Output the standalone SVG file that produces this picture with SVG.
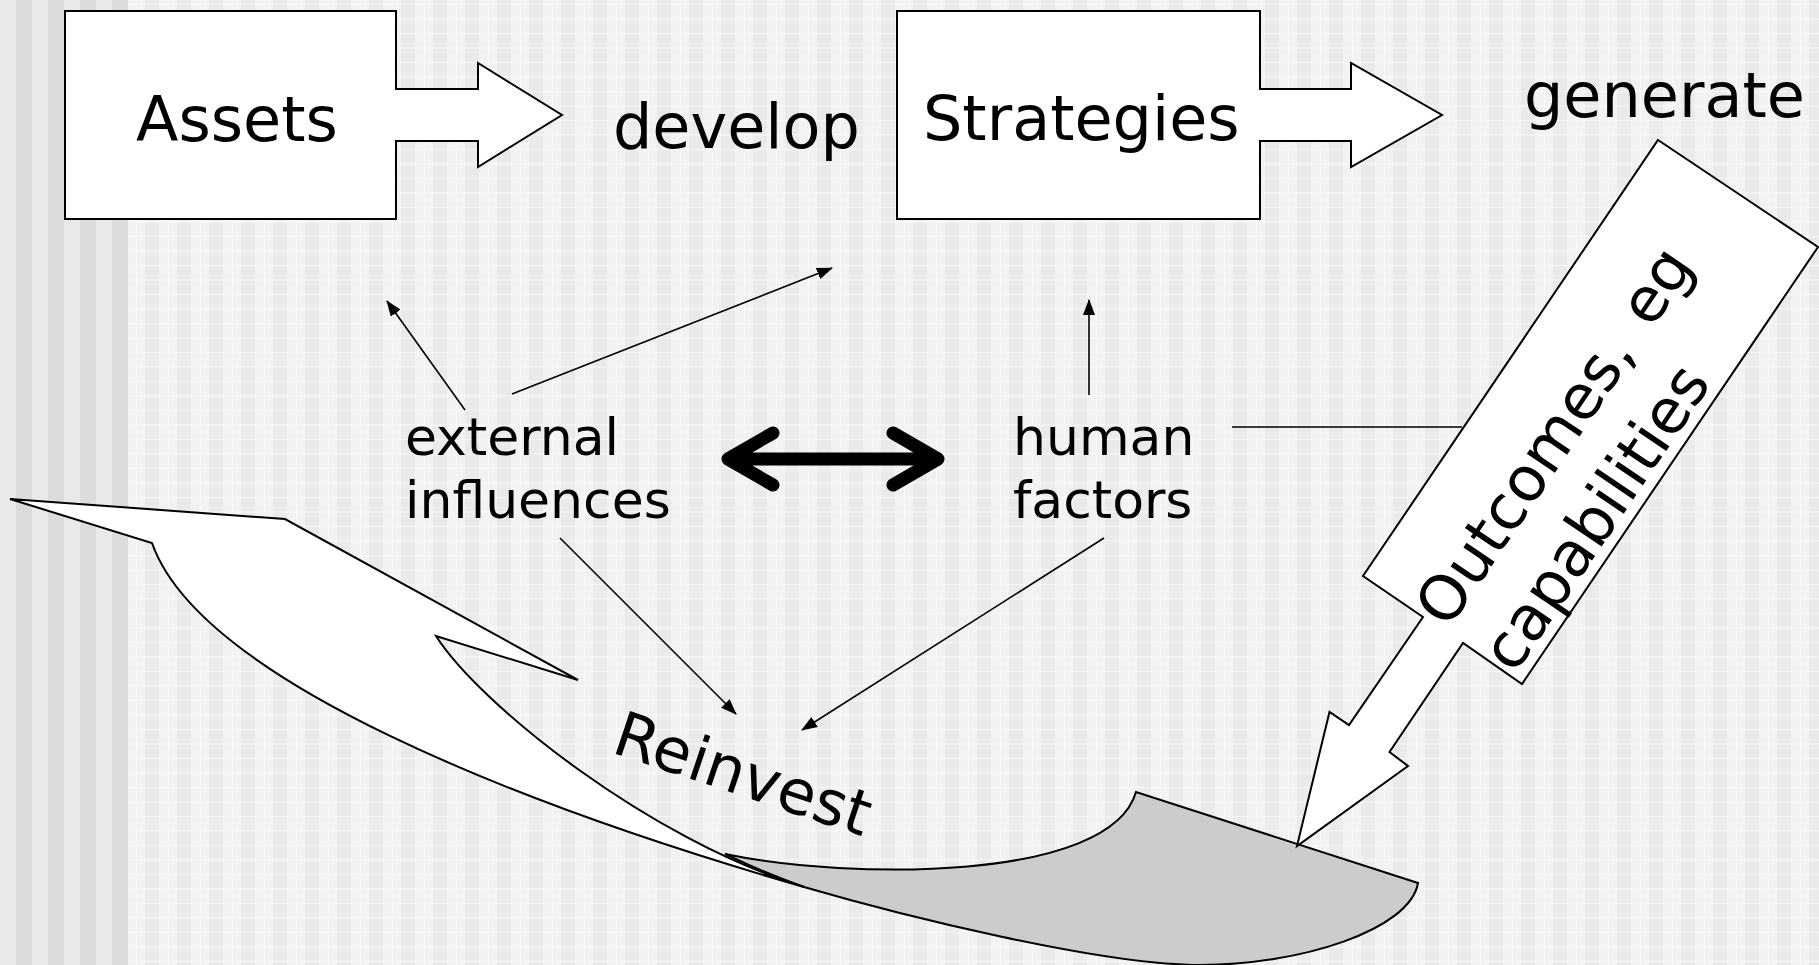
<svg xmlns="http://www.w3.org/2000/svg" width="1819" height="965" viewBox="0 0 1819 965">
<defs>
<style>
.box{fill:#fff;stroke:#000;stroke-width:2;stroke-linejoin:miter}
.shape{stroke:#000;stroke-width:2;stroke-linejoin:miter}
.big{font-family:"DejaVu Sans","Liberation Sans",sans-serif;font-size:62px;fill:#000}
.mid{font-family:"DejaVu Sans","Liberation Sans",sans-serif;font-size:52px;fill:#000}
.thin{stroke:#000;stroke-width:1.6;fill:none}
.thick{stroke:#000;stroke-width:13;fill:none;stroke-linecap:round;stroke-linejoin:round}
</style>
<pattern id="plaid" x="0" y="0" width="32" height="14.5" patternUnits="userSpaceOnUse">
<rect width="32" height="14.5" fill="#f2f2f2"/>
<rect x="17" width="14" height="14.5" fill="#eaeaea"/>
<rect x="8" width="1" height="14.5" fill="#f8f8f8"/>
<rect x="0" y="4" width="32" height="1" fill="#fafafa"/>
</pattern>
<pattern id="strip" x="0" y="0" width="32" height="10" patternUnits="userSpaceOnUse">
<rect width="16" height="10" fill="#e9e9e9"/>
<rect x="16" width="16" height="10" fill="#dcdcdc"/>
</pattern>
<marker id="ah" markerUnits="userSpaceOnUse" markerWidth="16" markerHeight="12" refX="15" refY="6" orient="auto">
<path d="M0,0 L16,6 L0,12 Z" fill="#000"/>
</marker>
</defs>

<g id="background">
<rect x="0" y="0" width="1819" height="965" fill="url(#plaid)"/>
<rect x="0" y="0" width="128" height="965" fill="url(#strip)"/>
</g>

<g id="reinvest-arrow">
<path class="shape" fill="#cccccc" d="M725,854 C850,880 1110,882 1136,792 L1418,883 C1410,930 1300,965 1200,965 C1100,965 900,915 804,887 C770,875 750,866 725,854 Z"/>
<path class="shape" fill="#ffffff" d="M10,499 L285,519 L578,680 L436,636 C480,705 650,840 804,887 C520,805 200,680 152,543 Z"/>
</g>

<g id="node-assets">
<path class="box" d="M65,11 H396 V89 H478 V63 L562,115 L478,167 V141 H396 V219 H65 Z"/>
<text class="big" x="136" y="141">Assets</text>
</g>

<g id="label-develop">
<text class="big" x="613" y="148">develop</text>
</g>

<g id="node-strategies">
<path class="box" d="M897,11 H1260 V89 H1351 V63 L1442,115 L1351,167 V141 H1260 V219 H897 Z"/>
<text class="big" x="923" y="140">Strategies</text>
</g>

<g id="label-generate">
<text class="big" x="1524" y="117">generate</text>
</g>

<g id="node-outcomes">
<path class="shape" fill="#ffffff" d="M1658,140 L1818,247 L1522,684 L1463,643 L1389.5,752 L1408,766 L1297,846 L1329.5,712 L1349,725 L1423,617 L1363,576 Z"/>
<g transform="translate(1590,412) rotate(-55.9)">
<text class="big" x="-260" y="5" word-spacing="8">Outcomes, eg</text>
<text class="big" x="-260" y="85">capabilities</text>
</g>
</g>

<g id="node-external">
<text class="mid" x="405" y="455">external</text>
<text class="mid" x="405" y="518">influences</text>
</g>

<g id="node-human">
<text class="mid" x="1013" y="455">human</text>
<text class="mid" x="1013" y="518">factors</text>
</g>

<g id="node-reinvest">
<text class="big" transform="translate(610,752) rotate(18.5)">Reinvest</text>
</g>

<g id="connectors">
<line class="thin" x1="465" y1="410" x2="387" y2="301" marker-end="url(#ah)"/>
<line class="thin" x1="512" y1="394" x2="832" y2="268" marker-end="url(#ah)"/>
<line class="thin" x1="1089" y1="395" x2="1089" y2="300" marker-end="url(#ah)"/>
<line class="thin" x1="560" y1="538" x2="736" y2="714" marker-end="url(#ah)"/>
<line class="thin" x1="1104" y1="538" x2="802" y2="730" marker-end="url(#ah)"/>
<line class="thin" x1="1232" y1="427" x2="1462" y2="427"/>
<path class="thick" d="M773,433 L728,459 L773,485 M728,459 H938 M893,433 L938,459 L893,485"/>
</g>
</svg>
